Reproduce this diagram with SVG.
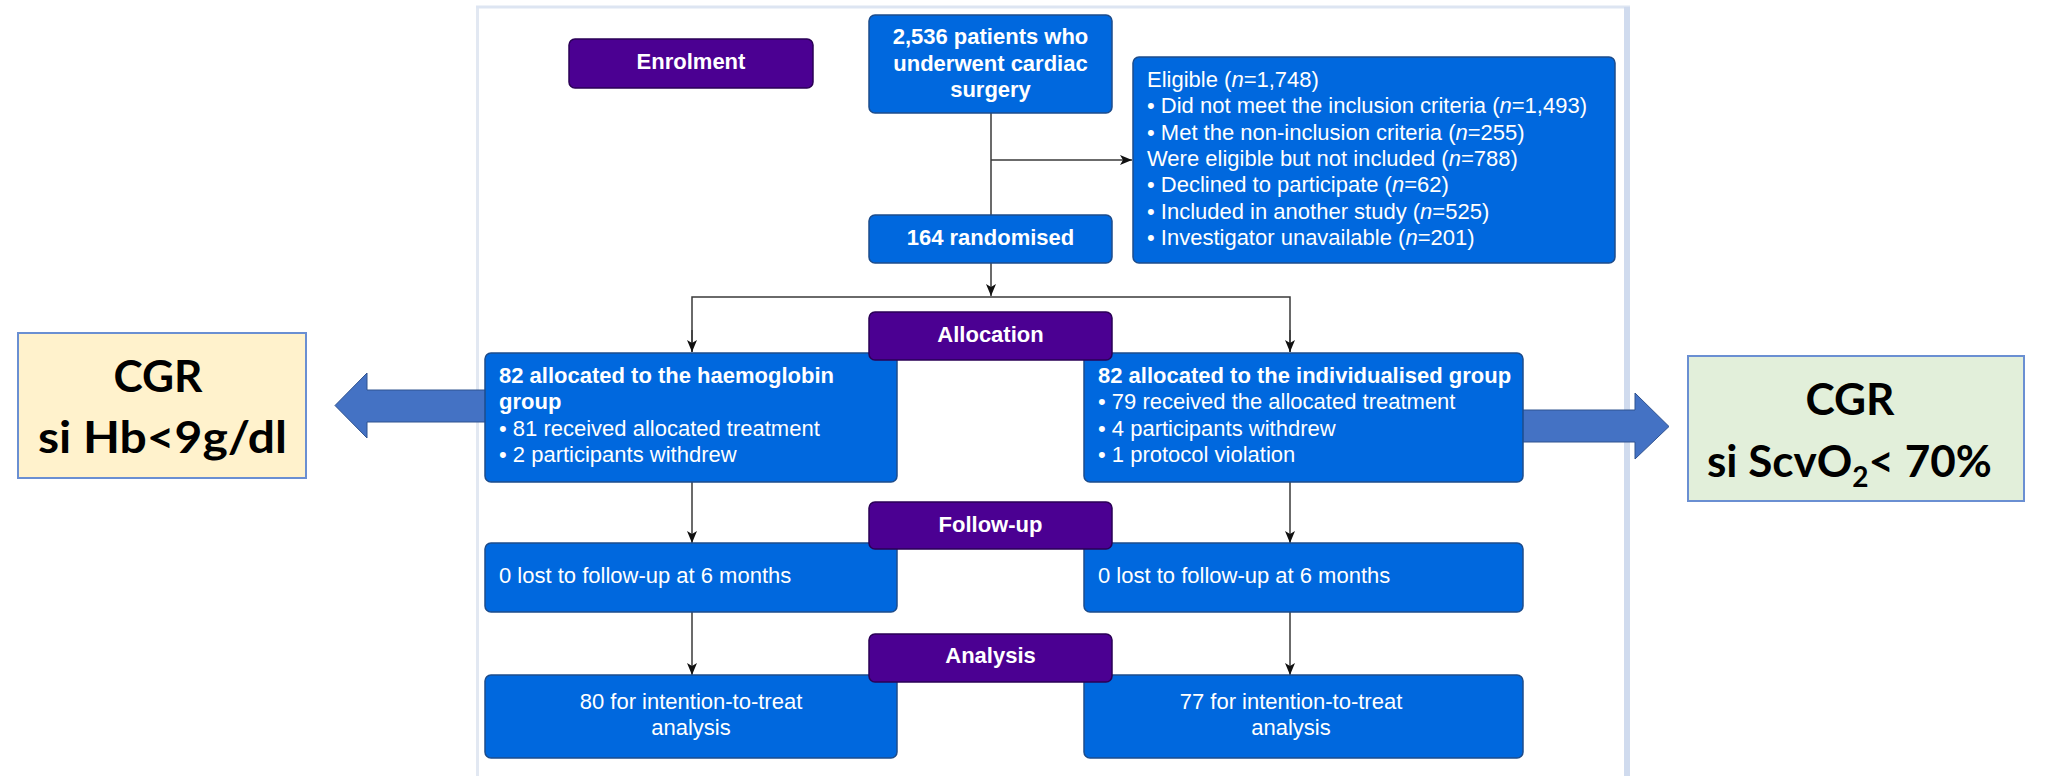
<svg xmlns="http://www.w3.org/2000/svg" width="2061" height="776" viewBox="0 0 2061 776">
<style>
  .blue { fill: #0068de; stroke: #1c4c8c; stroke-width: 1.5; }
  .purple { fill: #4b0092; stroke: #2a0055; stroke-width: 1.5; }
  .t { font-family: "Liberation Sans", Arial, sans-serif; font-size: 22px; fill: #ffffff; }
  .b { font-weight: bold; }
  .c { text-anchor: middle; }
  .conn { stroke: #3a3a3a; stroke-width: 1.5; fill: none; }
  .blk { fill: #4472c4; stroke: #2f528f; stroke-width: 1; }
  .cgr { font-family: Lato, "Open Sans", sans-serif; font-weight: bold; font-size: 44px; fill: #000000; text-anchor: middle; }
</style>
<defs>
  <marker id="ah" markerUnits="userSpaceOnUse" markerWidth="13" markerHeight="11" refX="12" refY="5" orient="auto">
    <path d="M0,0 L12,5 L0,10 L3,5 Z" fill="#111111"/>
  </marker>
</defs>
<rect x="0" y="0" width="2061" height="776" fill="#ffffff"/>

<!-- screenshot frame -->
<g id="frame">
  <line x1="477.5" y1="7" x2="477.5" y2="776" stroke="#e2e8f2" stroke-width="3"/>
  <line x1="476" y1="7" x2="1630" y2="7" stroke="#dde5f2" stroke-width="3"/>
  <line x1="1627" y1="7" x2="1627" y2="776" stroke="#d0dbee" stroke-width="6"/>
</g>

<!-- connectors -->
<g id="connectors">
  <line class="conn" x1="991" y1="113" x2="991" y2="215"/>
  <line class="conn" x1="991" y1="160" x2="1132" y2="160" marker-end="url(#ah)"/>
  <line class="conn" x1="991" y1="263" x2="991" y2="296" marker-end="url(#ah)"/>
  <polyline class="conn" points="692,352 692,297 1290,297 1290,352"/>
  <line class="conn" x1="692" y1="330" x2="692" y2="352" marker-end="url(#ah)"/>
  <line class="conn" x1="1290" y1="330" x2="1290" y2="352" marker-end="url(#ah)"/>
  <line class="conn" x1="692" y1="482" x2="692" y2="543" marker-end="url(#ah)"/>
  <line class="conn" x1="1290" y1="482" x2="1290" y2="543" marker-end="url(#ah)"/>
  <line class="conn" x1="692" y1="612" x2="692" y2="675" marker-end="url(#ah)"/>
  <line class="conn" x1="1290" y1="612" x2="1290" y2="675" marker-end="url(#ah)"/>
</g>

<!-- block arrows -->
<g id="block-arrows">
  <polygon class="blk" points="486,390 367,390 367,373 335,405.5 367,438 367,422 486,422"/>
  <polygon class="blk" points="1520,410 1635,410 1635,393 1669,426.5 1635,459 1635,442 1520,442"/>
</g>

<g id="patients">
  <rect class="blue" x="869" y="15" width="243" height="98" rx="6"/>
  <text class="t b c" x="990.5" y="44">2,536 patients who</text>
  <text class="t b c" x="990.5" y="70.5">underwent cardiac</text>
  <text class="t b c" x="990.5" y="97">surgery</text>
</g>

<g id="eligible">
  <rect class="blue" x="1133" y="57" width="482" height="206" rx="6"/>
  <text class="t" x="1147" y="87">Eligible (<tspan font-style="italic">n</tspan>=1,748)</text>
  <text class="t" x="1147" y="113.3">• Did not meet the inclusion criteria (<tspan font-style="italic">n</tspan>=1,493)</text>
  <text class="t" x="1147" y="139.6">• Met the non-inclusion criteria (<tspan font-style="italic">n</tspan>=255)</text>
  <text class="t" x="1147" y="166">Were eligible but not included (<tspan font-style="italic">n</tspan>=788)</text>
  <text class="t" x="1147" y="192.3">• Declined to participate (<tspan font-style="italic">n</tspan>=62)</text>
  <text class="t" x="1147" y="218.6">• Included in another study (<tspan font-style="italic">n</tspan>=525)</text>
  <text class="t" x="1147" y="245">• Investigator unavailable (<tspan font-style="italic">n</tspan>=201)</text>
</g>

<g id="randomised">
  <rect class="blue" x="869" y="215" width="243" height="48" rx="6"/>
  <text class="t b c" x="990.5" y="245">164 randomised</text>
</g>

<g id="alloc-hb">
  <rect class="blue" x="485" y="353" width="412" height="129" rx="6"/>
  <text class="t b" x="499" y="383">82 allocated to the haemoglobin</text>
  <text class="t b" x="499" y="409.3">group</text>
  <text class="t" x="499" y="435.6">• 81 received allocated treatment</text>
  <text class="t" x="499" y="462">• 2 participants withdrew</text>
</g>

<g id="alloc-ind">
  <rect class="blue" x="1084" y="353" width="439" height="129" rx="6"/>
  <text class="t b" x="1098" y="383">82 allocated to the individualised group</text>
  <text class="t" x="1098" y="409.3">• 79 received the allocated treatment</text>
  <text class="t" x="1098" y="435.6">• 4 participants withdrew</text>
  <text class="t" x="1098" y="462">• 1 protocol violation</text>
</g>

<g id="follow-hb">
  <rect class="blue" x="485" y="543" width="412" height="69" rx="6"/>
  <text class="t" x="499" y="583">0 lost to follow-up at 6 months</text>
</g>

<g id="follow-ind">
  <rect class="blue" x="1084" y="543" width="439" height="69" rx="6"/>
  <text class="t" x="1098" y="583">0 lost to follow-up at 6 months</text>
</g>

<g id="analysis-hb">
  <rect class="blue" x="485" y="675" width="412" height="83" rx="6"/>
  <text class="t c" x="691" y="709">80 for intention-to-treat</text>
  <text class="t c" x="691" y="735">analysis</text>
</g>

<g id="analysis-ind">
  <rect class="blue" x="1084" y="675" width="439" height="83" rx="6"/>
  <text class="t c" x="1291" y="709">77 for intention-to-treat</text>
  <text class="t c" x="1291" y="735">analysis</text>
</g>

<g id="enrolment">
  <rect class="purple" x="569" y="39" width="244" height="49" rx="6"/>
  <text class="t b c" x="691" y="69">Enrolment</text>
</g>

<g id="allocation">
  <rect class="purple" x="869" y="312" width="243" height="48" rx="6"/>
  <text class="t b c" x="990.5" y="342">Allocation</text>
</g>

<g id="followup">
  <rect class="purple" x="869" y="502" width="243" height="47" rx="6"/>
  <text class="t b c" x="990.5" y="532">Follow-up</text>
</g>

<g id="analysis">
  <rect class="purple" x="869" y="634" width="243" height="48" rx="6"/>
  <text class="t b c" x="990.5" y="663">Analysis</text>
</g>

<g id="cgr-hb">
  <rect x="18" y="333" width="288" height="145" fill="#fff2cc" stroke="#6a8fd2" stroke-width="2"/>
  <text class="cgr" x="158" y="392" textLength="89" lengthAdjust="spacingAndGlyphs">CGR</text>
  <text class="cgr" x="162.5" y="453" textLength="249" lengthAdjust="spacingAndGlyphs">si Hb&lt;9g/dl</text>
</g>

<g id="cgr-scvo2">
  <rect x="1688" y="356" width="336" height="145" fill="#e2efda" stroke="#6a8fd2" stroke-width="2"/>
  <text class="cgr" x="1850" y="415" textLength="89" lengthAdjust="spacingAndGlyphs">CGR</text>
  <text class="cgr" x="1707" y="477" style="text-anchor:start">si ScvO<tspan font-size="28" dy="10">2</tspan><tspan dy="-10">&lt; 70%</tspan></text>
</g>
</svg>
